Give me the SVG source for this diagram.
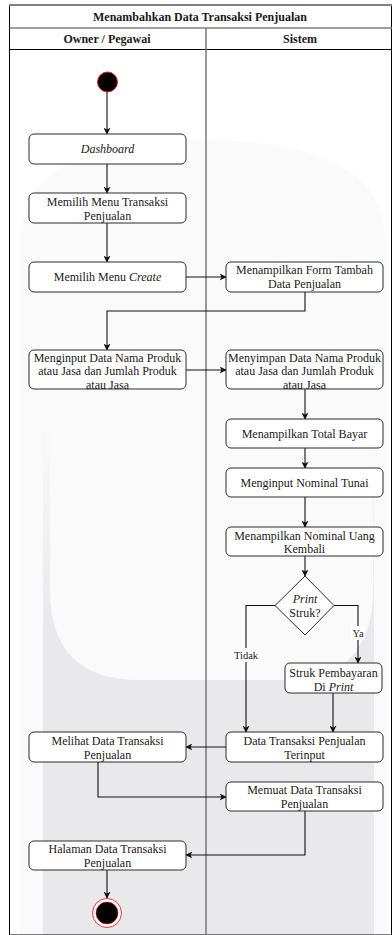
<svg xmlns="http://www.w3.org/2000/svg" width="392" height="935" viewBox="0 0 392 935">
<style>
.t{font-family:"Liberation Serif","Times New Roman",serif;font-size:12px;fill:#1a1a1a;text-anchor:middle}
.b{font-weight:bold}
.i{font-style:italic}
.lbl{font-family:"Liberation Serif","Times New Roman",serif;font-size:10.5px;fill:#1a1a1a;text-anchor:middle}
.node{fill:#ffffff;stroke:#2b2b2b;stroke-width:1}
.c{fill:none;stroke:#111;stroke-width:1.1}
</style>
<defs>
<marker id="ah" viewBox="0 0 10 10" refX="9" refY="5" markerWidth="7" markerHeight="7" orient="auto" markerUnits="userSpaceOnUse">
<path d="M0,0 L10,5 L0,10 L2.5,5 Z" fill="#111"/>
</marker>
<linearGradient id="fade" x1="0" y1="0" x2="0" y2="1">
<stop offset="0" stop-color="#e9e9eb" stop-opacity="0"/>
<stop offset="0.4" stop-color="#e9e9eb" stop-opacity="1"/>
</linearGradient>
</defs>
<rect x="0" y="0" width="392" height="935" fill="#ffffff"/>
<g id="watermark">
<path d="M20,935 L20,240 Q20,140 200,140 Q385,140 385,240 L385,935 Z" fill="#fafafb"/>
<path d="M43,935 L43,420 L374,420 L374,935 Z" fill="url(#fade)"/>
<path d="M50,410 L50,590 Q50,680 140,680 L283,680 Q373,680 373,590 L373,410 Z" fill="#fafafb"/>
</g>
<g id="swimlanes">
<rect x="9.5" y="5" width="382" height="930" fill="none" stroke="#000" stroke-width="1"/>
<line x1="9" y1="5" x2="392" y2="5" stroke="#808080" stroke-width="2"/>
<line x1="9.5" y1="28" x2="392" y2="28" stroke="#808080" stroke-width="1.5"/>
<line x1="9.5" y1="49.5" x2="392" y2="49.5" stroke="#000" stroke-width="1"/>
<line x1="206" y1="28" x2="206" y2="935" stroke="#777" stroke-width="1.5"/>
<text class="t b" x="200" y="21">Menambahkan Data Transaksi Penjualan</text>
<text class="t b" x="107" y="43">Owner / Pegawai</text>
<text class="t b" x="300" y="43">Sistem</text>
</g>
<g id="connectors">
<line class="c" x1="107" y1="92" x2="107" y2="134" marker-end="url(#ah)"/>
<line class="c" x1="107" y1="164" x2="107" y2="193" marker-end="url(#ah)"/>
<line class="c" x1="107" y1="223" x2="107" y2="262" marker-end="url(#ah)"/>
<line class="c" x1="186" y1="277" x2="226" y2="277" marker-end="url(#ah)"/>
<polyline class="c" points="305,292 305,311 107,311 107,350" marker-end="url(#ah)"/>
<line class="c" x1="186" y1="370" x2="226" y2="370" marker-end="url(#ah)"/>
<line class="c" x1="305" y1="389" x2="305" y2="419" marker-end="url(#ah)"/>
<line class="c" x1="305" y1="448" x2="305" y2="468" marker-end="url(#ah)"/>
<line class="c" x1="305" y1="497" x2="305" y2="527" marker-end="url(#ah)"/>
<line class="c" x1="305" y1="556" x2="305" y2="576" marker-end="url(#ah)"/>
<polyline class="c" points="275,605.5 246,605.5 246,732" marker-end="url(#ah)"/>
<polyline class="c" points="334,605.5 358,605.5 358,663" marker-end="url(#ah)"/>
<line class="c" x1="333" y1="693" x2="333" y2="732" marker-end="url(#ah)"/>
<line class="c" x1="226" y1="747" x2="186" y2="747" marker-end="url(#ah)"/>
<polyline class="c" points="98,762 98,797 226,797" marker-end="url(#ah)"/>
<polyline class="c" points="305,811 305,855 186,855" marker-end="url(#ah)"/>
<line class="c" x1="107" y1="870" x2="107" y2="898" marker-end="url(#ah)"/>
<rect x="232" y="648" width="28" height="14" fill="#ffffff"/>
<text class="lbl" x="246" y="659">Tidak</text>
<rect x="351" y="626" width="14" height="14" fill="#ffffff"/>
<text class="lbl" x="358" y="637">Ya</text>
</g>
<g id="start"><circle cx="107.5" cy="82" r="10" fill="#000" stroke="#e02020" stroke-width="1"/></g>
<g id="n-dashboard"><rect class="node" x="29" y="134" width="157" height="30" rx="5"/><text class="t i" x="107.5" y="153">Dashboard</text></g>
<g id="n-menu-transaksi"><rect class="node" x="29" y="193" width="157" height="30" rx="5"/><text class="t" x="107.5" y="205.5">Memilih Menu Transaksi</text><text class="t" x="107.5" y="219.5">Penjualan</text></g>
<g id="n-menu-create"><rect class="node" x="29" y="262" width="157" height="30" rx="5"/><text class="t" x="107.5" y="281">Memilih Menu <tspan class="i">Create</tspan></text></g>
<g id="n-form-tambah"><rect class="node" x="226" y="262" width="157" height="30" rx="5"/><text class="t" x="304.5" y="274">Menampilkan Form Tambah</text><text class="t" x="304.5" y="288">Data Penjualan</text></g>
<g id="n-menginput-data"><rect class="node" x="29" y="350" width="157" height="39" rx="5"/><text class="t" x="107.5" y="361.5">Menginput Data Nama Produk</text><text class="t" x="107.5" y="375">atau Jasa dan Jumlah Produk</text><text class="t" x="107.5" y="388.5">atau Jasa</text></g>
<g id="n-menyimpan-data"><rect class="node" x="226" y="350" width="157" height="39" rx="5"/><text class="t" x="304.5" y="361.5">Menyimpan Data Nama Produk</text><text class="t" x="304.5" y="375">atau Jasa dan Jumlah Produk</text><text class="t" x="304.5" y="388.5">atau Jasa</text></g>
<g id="n-total-bayar"><rect class="node" x="226" y="419" width="157" height="29" rx="5"/><text class="t" x="304.5" y="437.5">Menampilkan Total Bayar</text></g>
<g id="n-nominal-tunai"><rect class="node" x="226" y="468" width="157" height="29" rx="5"/><text class="t" x="304.5" y="486.5">Menginput Nominal Tunai</text></g>
<g id="n-uang-kembali"><rect class="node" x="226" y="527" width="157" height="29" rx="5"/><text class="t" x="304.5" y="539.5">Menampilkan Nominal Uang</text><text class="t" x="304.5" y="553">Kembali</text></g>
<g id="n-decision"><polygon points="305,576 334,605.5 305,635 275,605.5" fill="#fff" stroke="#2b2b2b" stroke-width="1"/><text class="t i" x="305" y="603">Print</text><text class="t" x="305" y="616.5">Struk?</text></g>
<g id="n-struk"><rect class="node" x="285" y="663" width="97" height="30" rx="5"/><text class="t" x="333.5" y="677">Struk Pembayaran</text><text class="t" x="333.5" y="690.5">Di <tspan class="i">Print</tspan></text></g>
<g id="n-terinput"><rect class="node" x="226" y="732" width="157" height="30" rx="5"/><text class="t" x="304.5" y="744.5">Data Transaksi Penjualan</text><text class="t" x="304.5" y="758.5">Terinput</text></g>
<g id="n-melihat"><rect class="node" x="29" y="732" width="157" height="30" rx="5"/><text class="t" x="107.5" y="744.5">Melihat Data Transaksi</text><text class="t" x="107.5" y="758.5">Penjualan</text></g>
<g id="n-memuat"><rect class="node" x="226" y="782" width="157" height="29" rx="5"/><text class="t" x="304.5" y="794">Memuat Data Transaksi</text><text class="t" x="304.5" y="808">Penjualan</text></g>
<g id="n-halaman"><rect class="node" x="29" y="841" width="157" height="29" rx="5"/><text class="t" x="107.5" y="853">Halaman Data Transaksi</text><text class="t" x="107.5" y="866.5">Penjualan</text></g>
<g id="end"><circle cx="107" cy="913" r="14.5" fill="#fff" stroke="#e83030" stroke-width="1"/><circle cx="107" cy="913" r="11" fill="#000" stroke="#e02020" stroke-width="0.6"/></g>
</svg>
